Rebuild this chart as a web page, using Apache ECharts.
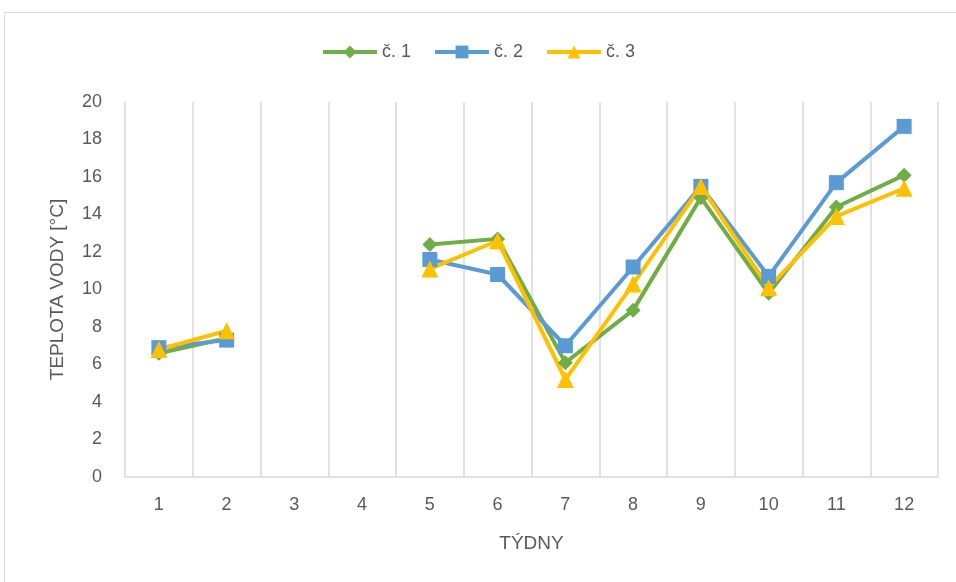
<!DOCTYPE html>
<html>
<head>
<meta charset="utf-8">
<script src="https://cdn.jsdelivr.net/npm/echarts@6/dist/echarts.min.js"></script>
<style>
  html, body { margin: 0; padding: 0; background: #fff; }
  #frame {
    position: absolute; left: 4px; top: 12px;
    width: 1000px; height: 640px;
    border: 1px solid #d9d9d9;
  }
  #chart { position: absolute; left: 0; top: 0; width: 956px; height: 582px; }
</style>
</head>
<body>
<div id="frame"></div>
<div id="chart"></div>
<script>
// týdny (osa x)
const weeks = ['1', '2', '3', '4', '5', '6', '7', '8', '9', '10', '11', '12'];
// teplota vody [°C], '-' = chybí měření
const sample1 = [6.6, 7.4, '-', '-', 12.4, 12.7, 6.1, 8.9, 14.9, 9.8, 14.4, 16.1];
const sample2 = [6.9, 7.3, '-', '-', 11.6, 10.8, 7.0, 11.2, 15.5, 10.7, 15.7, 18.7];
const sample3 = [6.8, 7.8, '-', '-', 11.1, 12.6, 5.2, 10.3, 15.5, 10.1, 13.9, 15.4];
const seriesNames = ['č. 1', 'č. 2', 'č. 3'];

const textColor = '#595959';
const fontFamily = '"Liberation Sans", "Open Sans", sans-serif';

const chart = echarts.init(document.getElementById('chart'));

const makeSeries = (name, data, color, symbol, size) => ({
  name: name,
  type: 'line',
  data: data,
  connectNulls: false,
  symbol: symbol,
  symbolSize: size,
  showAllSymbol: true,
  itemStyle: { color: color },
  lineStyle: { color: color, width: 4 },
  emphasis: { disabled: true },
  animation: false
});

chart.setOption({
  textStyle: { fontFamily: fontFamily },
  legend: {
    top: 38,
    left: 'center',
    itemWidth: 54,
    itemHeight: 16,
    itemGap: 22,
    lineStyle: { width: 4 },
    textStyle: { color: textColor, fontSize: 18, fontFamily: fontFamily },
    data: seriesNames
  },
  grid: { left: 125, right: 18, top: 102, bottom: 105 },
  xAxis: {
    type: 'category',
    data: weeks,
    boundaryGap: true,
    name: 'TÝDNY',
    nameLocation: 'middle',
    nameGap: 57,
    nameTextStyle: { color: textColor, fontSize: 19 },
    axisLine: { lineStyle: { color: '#d9d9d9', width: 1.5 } },
    axisTick: { show: false },
    axisLabel: { color: textColor, fontSize: 18, margin: 19 },
    splitLine: { show: true, lineStyle: { color: '#d9d9d9', width: 1.5 } }
  },
  yAxis: {
    type: 'value',
    min: 0,
    max: 20,
    interval: 2,
    name: 'TEPLOTA VODY [°C]',
    nameLocation: 'middle',
    nameGap: 58,
    nameTextStyle: { color: textColor, fontSize: 19 },
    axisLine: { show: false },
    axisTick: { show: false },
    axisLabel: { color: textColor, fontSize: 18, margin: 23 },
    splitLine: { show: false }
  },
  series: [
    makeSeries(seriesNames[0], sample1, '#70ad47', 'diamond', 15),
    makeSeries(seriesNames[1], sample2, '#5b9bd5', 'rect', 15),
    makeSeries(seriesNames[2], sample3, '#ffc000', 'triangle', 17)
  ]
});
</script>
</body>
</html>
